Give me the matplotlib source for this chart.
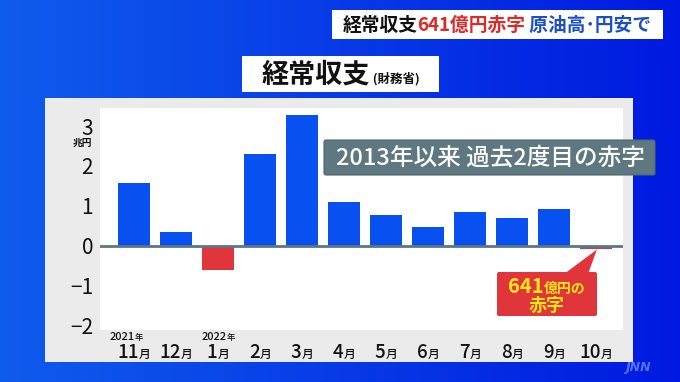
import numpy as np
import matplotlib
matplotlib.use('Agg')
import matplotlib.pyplot as plt
from matplotlib.patches import Rectangle, FancyBboxPatch, Polygon
from matplotlib.transforms import IdentityTransform

plt.rcParams['font.family'] = ['Noto Sans CJK JP', 'DejaVu Sans']

# data (trillion yen)
months = ['11', '12', '1', '2', '3', '4', '5', '6', '7', '8', '9', '10']
years = {0: '2021', 2: '2022'}
values = [1.58, 0.36, -0.60, 2.29, 3.27, 1.11, 0.78, 0.48, 0.86, 0.69, 0.92, -0.0641]
yticks = [-2, -1, 0, 1, 2, 3]

W, H = 680, 382
fig = plt.figure(figsize=(W / 100, H / 100), dpi=100)
ID = IdentityTransform()


def fx(x):
    return x / W


def fy(y):
    return 1 - y / H


def disp(x, y):
    return (x, H - y)


# blue background
bg = fig.add_axes([0, 0, 1, 1], zorder=0)
g = np.linspace(0, 1, 256)
left = np.array([0.06, 0.36, 0.93])
right = np.array([0.0, 0.10, 0.88])
grad = left[None, None, :] * (1 - g)[None, :, None] + right[None, None, :] * g[None, :, None]
grad = np.repeat(grad, 2, axis=0)
bg.imshow(grad, aspect='auto', extent=[0, 1, 0, 1])
bg.axis('off')

# grey panel
fig.patches.append(Rectangle(disp(45, 362), 588, 264, transform=ID,
                             facecolor='#ebebeb', edgecolor='none', zorder=1))

ax = fig.add_axes([fx(100), fy(330), 523 / W, 222 / H], zorder=2)
ax.set_facecolor('white')
xs = np.arange(len(values))
colors = ['#0850f0' if v >= 0 else '#e0353b' for v in values]
ax.bar(xs, values, width=0.76, color=colors, zorder=2)
ax.axhline(0, color='#5b7783', lw=2, zorder=3)
ax.set_xlim(-0.81, 11.64)
ax.set_ylim(-2.1, 3.45)
ax.set_xticks([])
ax.set_yticks(yticks)
ax.set_yticklabels([str(t) if t >= 0 else '\u2212' + str(-t) for t in yticks],
                   fontsize=15, color='#111111')
ax.tick_params(axis='y', length=0, pad=5)
for s in ax.spines.values():
    s.set_visible(False)

renderer = fig.canvas.get_renderer()


def mixed(x, y, parts, ha='center', weight='bold', zorder=6):
    texts = []
    for s, size, color in parts:
        t = fig.text(0, 0, s, fontsize=size, color=color, fontweight=weight,
                     ha='left', va='baseline', zorder=zorder)
        texts.append(t)
    widths = [t.get_window_extent(renderer).width for t in texts]
    total = sum(widths)
    start = {'center': x - total / 2, 'left': x, 'right': x - total}[ha]
    for t, w in zip(texts, widths):
        t.set_position((fx(start), fy(y)))
        start += w
    return texts


fig.canvas.draw()

# month labels
for i, m in enumerate(months):
    px = ax.transData.transform((xs[i], 0))[0]
    mixed(px, 358, [(m, 13.5, '#111111'), ('月', 8.5, '#111111')], weight='medium')
    if i in years:
        dx = -8 if i == 0 else 0
        mixed(px + dx, 340, [(years[i], 8, '#111111'), ('年', 6, '#111111')],
              weight='medium')

# unit
fig.text(fx(82), fy(143), '兆円', fontsize=7, fontweight='bold', color='#111111',
         ha='center', va='center', zorder=6)

# top caption
fig.patches.append(Rectangle(disp(332, 39), 331, 29, transform=ID,
                             facecolor='white', edgecolor='none', zorder=4))
mixed(497, 31, [('経常収支', 13.5, '#111111'), ('641億円赤字', 13.5, '#dc2a2a'),
                (' 原油高\uff65円安で', 13.5, '#1d4fc4')])

# title box
fig.patches.append(Rectangle(disp(242, 92), 197, 36, transform=ID,
                             facecolor='white', edgecolor='none', zorder=4))
mixed(341, 83, [('経常収支', 19.5, '#111111'), (' (財務省)', 9, '#111111')])

# note box
fig.patches.append(FancyBboxPatch(disp(324, 175), 331, 35, transform=ID,
                                  boxstyle='round,pad=0,rounding_size=2',
                                  facecolor='#5e7882', edgecolor='#4f666f', lw=0.8,
                                  zorder=5))
fig.text(fx(490), fy(158), '2013年以来 過去2度目の赤字', fontsize=17, color='white',
         ha='center', va='center', fontweight='medium', zorder=6)

# red callout
tip = ax.transData.transform((xs[-1] + 0.02, values[-1]))
fig.patches.append(Polygon([disp(564, 274), disp(588, 274), (tip[0], tip[1] - 1)],
                           closed=True, transform=ID, facecolor='#e0353b',
                           edgecolor='none', zorder=5))
fig.patches.append(FancyBboxPatch(disp(497, 316), 100, 44, transform=ID,
                                  boxstyle='round,pad=0,rounding_size=2',
                                  facecolor='#e0353b', edgecolor='none', zorder=5))
mixed(547, 293, [('641', 14.5, '#ffe81a'), ('億円の', 10, '#ffe81a')])
mixed(547, 311, [('赤字', 13, '#ffe81a')])

# watermark
fig.text(fx(638), fy(367), 'JNN', fontsize=9, fontweight='bold', fontstyle='italic',
         family='DejaVu Sans', color='#8fa8ff', alpha=0.6, ha='center', va='center',
         zorder=6)

fig.savefig('out.png', dpi=100)
